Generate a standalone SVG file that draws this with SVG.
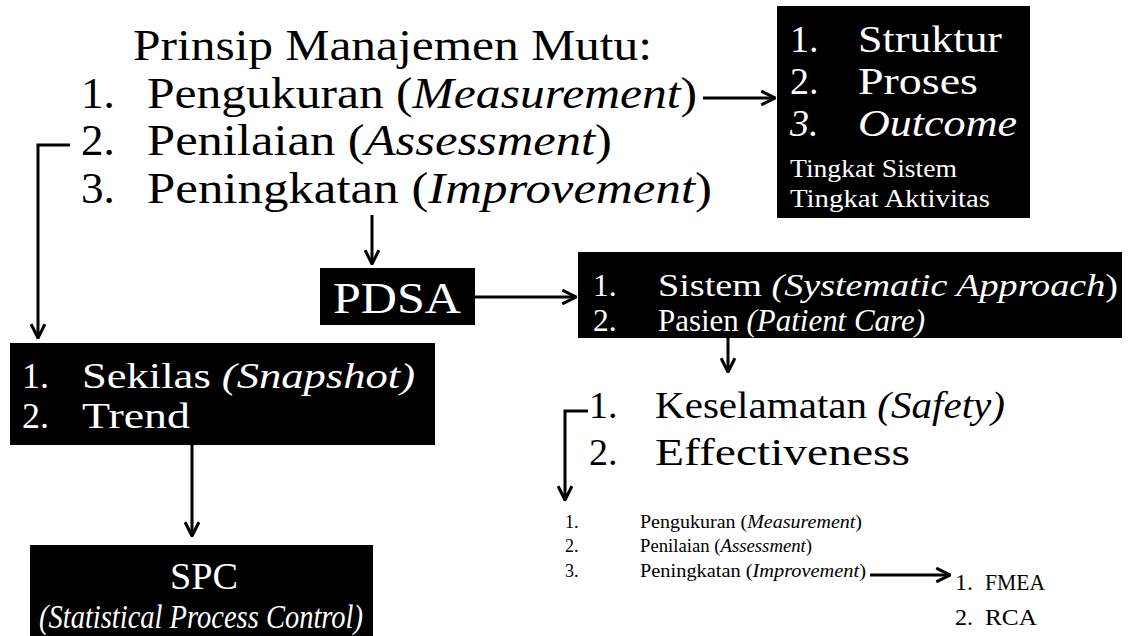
<svg xmlns="http://www.w3.org/2000/svg" width="1128" height="636" viewBox="0 0 1128 636" font-family="Liberation Serif, Times New Roman, serif">
<defs>
<style>
text{font-family:"Liberation Serif",serif;fill:#000}
.w{fill:#fff}
.i{font-style:italic}
.box{fill:#000}
.ln{stroke:#000;stroke-width:3;fill:none}
</style>
<marker id="ah" viewBox="0 0 12 12" refX="11" refY="6" markerWidth="5.5" markerHeight="5.5" markerUnits="strokeWidth" orient="auto">
<path d="M1,1 L11,6 L1,11" fill="none" stroke="#000" stroke-width="2.2"/>
</marker>
</defs>
<rect width="1128" height="636" fill="#fff"/>

<g id="principles">
<text x="133" y="60" font-size="45" textLength="519" lengthAdjust="spacingAndGlyphs">Prinsip Manajemen Mutu:</text>
<text x="81" y="108" font-size="45">1.</text>
<text x="147" y="108" font-size="45" textLength="550" lengthAdjust="spacingAndGlyphs">Pengukuran (<tspan class="i">Measurement</tspan>)</text>
<text x="81" y="155" font-size="45">2.</text>
<text x="147" y="155" font-size="45" textLength="465" lengthAdjust="spacingAndGlyphs">Penilaian (<tspan class="i">Assessment</tspan>)</text>
<text x="81" y="203" font-size="45">3.</text>
<text x="147" y="203" font-size="45" textLength="565" lengthAdjust="spacingAndGlyphs">Peningkatan (<tspan class="i">Improvement</tspan>)</text>
</g>

<g id="struktur">
<rect class="box" x="777" y="6" width="253" height="212"/>
<text class="w" x="790" y="52" font-size="38">1.</text>
<text class="w" x="858" y="52" font-size="38" textLength="144" lengthAdjust="spacingAndGlyphs">Struktur</text>
<text class="w" x="790" y="94" font-size="38">2.</text>
<text class="w" x="858" y="94" font-size="38" textLength="120" lengthAdjust="spacingAndGlyphs">Proses</text>
<text class="w i" x="790" y="136" font-size="38">3.</text>
<text class="w i" x="858" y="136" font-size="38" textLength="159" lengthAdjust="spacingAndGlyphs">Outcome</text>
<text class="w" x="790" y="177" font-size="25" textLength="167" lengthAdjust="spacingAndGlyphs">Tingkat Sistem</text>
<text class="w" x="790" y="207" font-size="25" textLength="200" lengthAdjust="spacingAndGlyphs">Tingkat Aktivitas</text>
</g>

<g id="pdsa">
<rect class="box" x="320" y="268" width="155" height="57"/>
<text class="w" x="397" y="313" font-size="44" text-anchor="middle" textLength="128" lengthAdjust="spacingAndGlyphs">PDSA</text>
</g>

<g id="sistem">
<rect class="box" x="578" y="252" width="544" height="86"/>
<text class="w" x="593" y="296" font-size="31.5">1.</text>
<text class="w" x="658" y="296" font-size="31.5" textLength="460" lengthAdjust="spacingAndGlyphs">Sistem <tspan class="i">(Systematic Approach</tspan>)</text>
<text class="w" x="593" y="331" font-size="31.5">2.</text>
<text class="w" x="658" y="331" font-size="31.5" textLength="267" lengthAdjust="spacingAndGlyphs">Pasien <tspan class="i">(Patient Care)</tspan></text>
</g>

<g id="keselamatan">
<text x="589" y="418" font-size="38">1.</text>
<text x="655" y="418" font-size="38" textLength="350" lengthAdjust="spacingAndGlyphs">Keselamatan <tspan class="i">(Safety)</tspan></text>
<text x="589" y="465" font-size="38">2.</text>
<text x="655" y="465" font-size="38" textLength="255" lengthAdjust="spacingAndGlyphs">Effectiveness</text>
</g>

<g id="sekilas">
<rect class="box" x="10" y="343" width="425" height="102"/>
<text class="w" x="22" y="388" font-size="36">1.</text>
<text class="w" x="82" y="388" font-size="36" textLength="333" lengthAdjust="spacingAndGlyphs">Sekilas <tspan class="i">(Snapshot)</tspan></text>
<text class="w" x="22" y="428" font-size="36">2.</text>
<text class="w" x="82" y="428" font-size="36" textLength="108" lengthAdjust="spacingAndGlyphs">Trend</text>
</g>

<g id="spc">
<rect class="box" x="30" y="545" width="343" height="91"/>
<text class="w" x="204" y="589" font-size="37" text-anchor="middle" textLength="68" lengthAdjust="spacingAndGlyphs">SPC</text>
<text class="w i" x="201" y="628" font-size="34" text-anchor="middle" textLength="324" lengthAdjust="spacingAndGlyphs">(Statistical Process Control)</text>
</g>

<g id="sublist">
<text x="565" y="528" font-size="18">1.</text>
<text x="640" y="528" font-size="18" textLength="222" lengthAdjust="spacingAndGlyphs">Pengukuran (<tspan class="i">Measurement</tspan>)</text>
<text x="565" y="552" font-size="18">2.</text>
<text x="640" y="552" font-size="18" textLength="172" lengthAdjust="spacingAndGlyphs">Penilaian (<tspan class="i">Assessment</tspan>)</text>
<text x="565" y="577" font-size="18">3.</text>
<text x="640" y="577" font-size="18" textLength="226" lengthAdjust="spacingAndGlyphs">Peningkatan (<tspan class="i">Improvement</tspan>)</text>
</g>

<g id="fmea">
<text x="955" y="590" font-size="24">1.</text>
<text x="985" y="590" font-size="24" textLength="60" lengthAdjust="spacingAndGlyphs">FMEA</text>
<text x="955" y="625" font-size="24">2.</text>
<text x="985" y="625" font-size="24" textLength="52" lengthAdjust="spacingAndGlyphs">RCA</text>
</g>

<g id="connectors">
<line class="ln" x1="703" y1="98" x2="775" y2="98" marker-end="url(#ah)"/>
<line class="ln" x1="372" y1="215" x2="372" y2="264" marker-end="url(#ah)"/>
<line class="ln" x1="475" y1="297" x2="576" y2="297" marker-end="url(#ah)"/>
<line class="ln" x1="728" y1="338" x2="728" y2="372" marker-end="url(#ah)"/>
<polyline class="ln" points="70,145 38,145 38,338" marker-end="url(#ah)"/>
<line class="ln" x1="192" y1="445" x2="192" y2="536" marker-end="url(#ah)"/>
<polyline class="ln" points="588,411 565,411 565,500" marker-end="url(#ah)"/>
<line class="ln" x1="870" y1="575" x2="950" y2="575" marker-end="url(#ah)"/>
</g>
</svg>
